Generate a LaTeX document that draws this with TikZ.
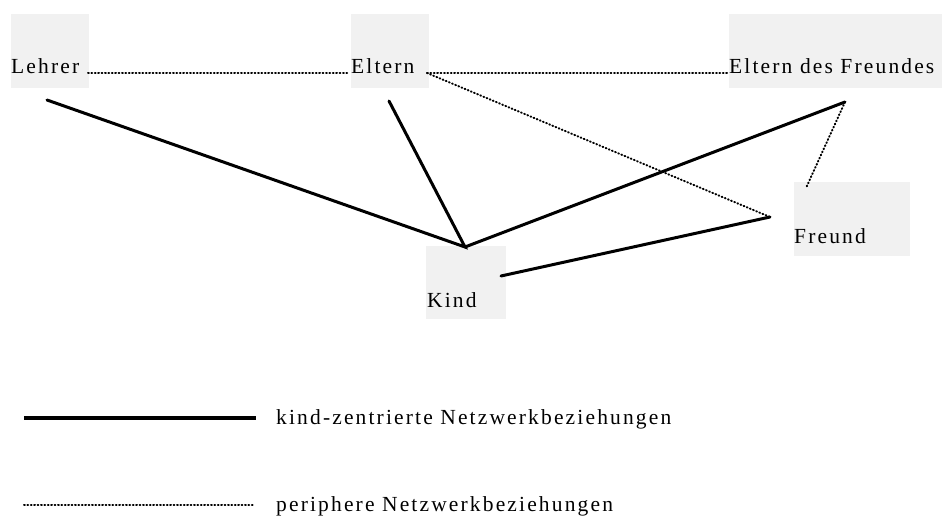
\documentclass[tikz,border=0pt]{standalone}
\usepackage{fontspec}
\setmainfont{Liberation Serif}[LetterSpace=10]
\definecolor{boxgray}{HTML}{F1F1F1}
\tikzset{
  px/.style={x=1pt,y=-1pt},
  graybox/.style={fill=boxgray,draw=none},
  lbl/.style={anchor=base west,inner sep=0pt,font=\fontsize{21.5}{25}\selectfont},
  solidrel/.style={line width=3pt,line cap=round},
  dotrel/.style={line width=2pt,line cap=round,dash pattern=on 0.8pt off 2.6pt},
}
\begin{document}
\begin{tikzpicture}[px]
\useasboundingbox (0,0) rectangle (945,516);
% gray boxes
\fill[graybox] (11,14) rectangle (89,88);
\fill[graybox] (351,14) rectangle (429,88);
\fill[graybox] (729,14) rectangle (942,88);
\fill[graybox] (794,182) rectangle (910,256);
\fill[graybox] (426,246) rectangle (506,319);
% labels
\node[lbl] (lehrer) at (11,74) {Lehrer};
\node[lbl] (eltern) at (351,74) {Eltern};
\node[lbl] (edf) at (729,74) {Eltern des Freundes};
\node[lbl] (freund) at (794,243) {Freund};
\node[lbl] (kind) at (427,307) {Kind};
% connector points
\coordinate (lehrerE) at (88,73);
\coordinate (elternW) at (349,73);
\coordinate (elternE) at (427,73);
\coordinate (edfW) at (728,73);
\coordinate (lehrerS) at (47,100);
\coordinate (elternS) at (389,101);
\coordinate (edfS) at (845,102);
\coordinate (kindN) at (465,247);
\coordinate (kindE) at (501,276);
\coordinate (freundW) at (770,217);
\coordinate (freundN) at (806,188);
% dotted relations
\draw[dotrel] (lehrerE) -- (elternW);
\draw[dotrel] (elternE) -- (edfW);
\draw[dotrel] (elternE) -- (freundW);
\draw[dotrel] (edfS) -- (freundN);
% solid relations
\draw[solidrel] (lehrerS) -- (kindN) -- (elternS);
\draw[solidrel] (kindN) -- (edfS);
\draw[solidrel] (kindE) -- (freundW);
% legend
\coordinate (l1a) at (24,418);
\coordinate (l1b) at (256,418);
\coordinate (l2a) at (24,505);
\coordinate (l2b) at (253,505);
\draw[line width=4pt] (l1a) -- (l1b);
\draw[dotrel] (l2a) -- (l2b);
\node[lbl] (leg1) at (276,424) {kind-zentrierte Netzwerkbeziehungen};
\node[lbl] (leg2) at (276,511) {periphere Netzwerkbeziehungen};
\end{tikzpicture}
\end{document}
